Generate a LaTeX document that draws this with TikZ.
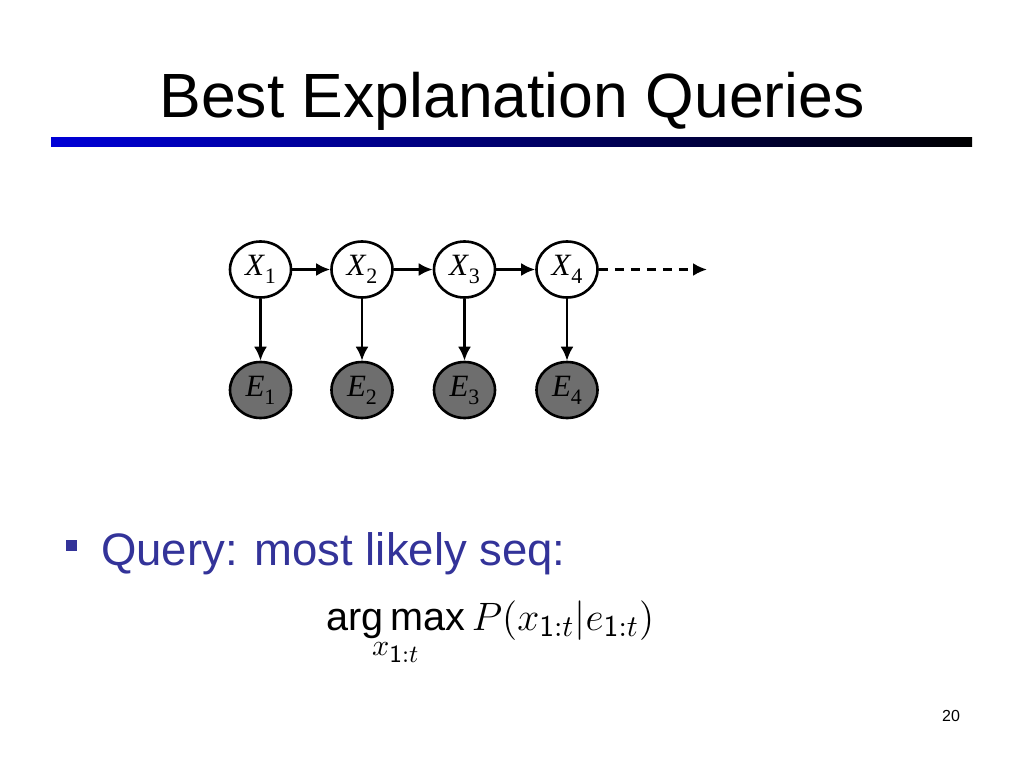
\documentclass[tikz,border=0pt]{standalone}
\usepackage{fontspec}
\setmainfont{Liberation Sans}
\newfontfamily\tnr{Liberation Serif}
\DeclareMathSizes{14.4}{14.4}{11}{9}
\usetikzlibrary{shapes.geometric,arrows.meta}
\definecolor{bulletblue}{RGB}{51,51,153}
\definecolor{barblue}{RGB}{0,0,215}
\definecolor{evgray}{RGB}{110,110,110}
\newcommand{\nlab}[2]{{\tnr\fontsize{31}{36}\selectfont\textit{#1}\raisebox{-8pt}{\fontsize{22}{24}\selectfont #2}}}
\begin{document}
\begin{tikzpicture}[x=1pt,y=-1pt,
  state/.style={ellipse,draw=black,line width=2.6pt,minimum width=61pt,minimum height=56pt,inner sep=0pt,fill=white},
  evid/.style={state,fill=evgray},
  conn/.style={line width=2.6pt,-{Latex[length=14pt,width=13pt]}},
  dconn/.style={conn,dash pattern=on 9pt off 7pt}]
\useasboundingbox (0,0) rectangle (1024,768);
% title
\node[anchor=base,font=\fontsize{62.5}{75}\selectfont] (title) at (512,117) {Best Explanation Queries};
\shade[left color=barblue,right color=black] (51,137) rectangle (972,146);
% nodes
\foreach \i/\x in {1/260.5,2/362,3/464.5,4/567}{
  \node[state] (X\i) at (\x,269.5) {\nlab{X}{\i}};
  \node[evid] (E\i) at (\x,390) {\nlab{E}{\i}};
  \draw[conn] (X\i) -- (E\i);
}
\draw[conn] (X1) -- (X2);
\draw[conn] (X2) -- (X3);
\draw[conn] (X3) -- (X4);
\coordinate (end) at (707,269.5);
\draw[dconn] (X4) -- (end);
% bullet
\fill[bulletblue] (66,540) rectangle (77,551);
\node[anchor=base west,inner sep=0pt,text=bulletblue,font=\fontsize{45.5}{55}\selectfont] (query) at (101,565) {Query: most likely seq:};
% formula
\node[anchor=base west,inner sep=0pt,scale=2.75,font=\Large] (formula) at (326,630)
  {$\mathop{\hbox{arg\,max}}\limits_{x_{\mathsf{1:}t}} P(x_{\mathsf{1:}t}|e_{\mathsf{1:}t})$};
% page number
\node[anchor=base,font=\fontsize{16}{19}\selectfont] (page) at (951,721) {20};
\end{tikzpicture}
\end{document}
